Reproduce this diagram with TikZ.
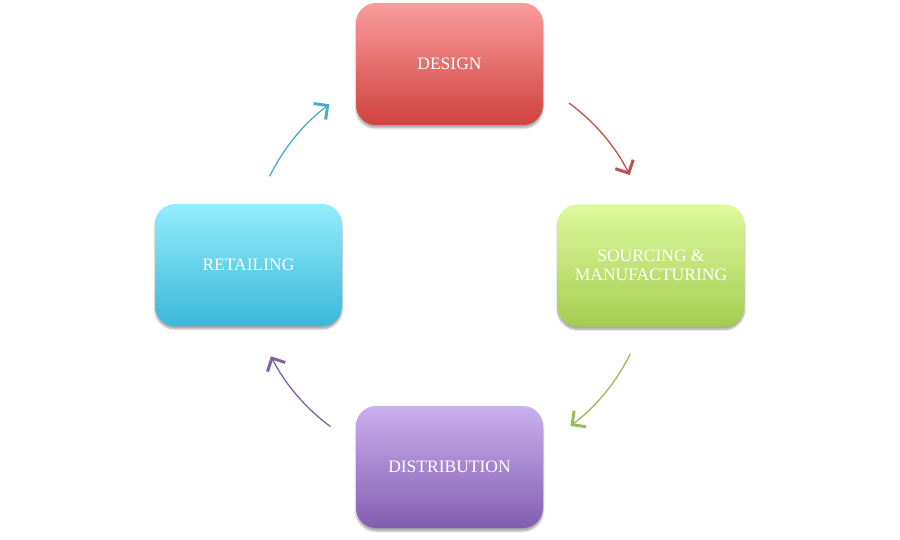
\documentclass[tikz,border=0pt]{standalone}
\usepackage{fontspec}
\setmainfont{Liberation Serif}
\usetikzlibrary{arrows.meta,shadows.blur,calc}
\definecolor{redT}{RGB}{250,156,156}
\definecolor{redB}{RGB}{207,66,62}
\definecolor{grnT}{RGB}{222,250,158}
\definecolor{grnB}{RGB}{164,204,80}
\definecolor{bluT}{RGB}{148,237,252}
\definecolor{bluB}{RGB}{58,184,217}
\definecolor{purT}{RGB}{202,176,238}
\definecolor{purB}{RGB}{130,94,176}
\definecolor{redA}{RGB}{192,80,77}
\definecolor{grnA}{RGB}{155,187,89}
\definecolor{bluA}{RGB}{75,172,198}
\definecolor{purA}{RGB}{128,100,162}
\tikzset{
  box/.style={rounded corners=20pt, minimum width=187pt, minimum height=122pt,
    text=white, font=\fontsize{17.5}{19.5}\selectfont, align=center,
    blur shadow={shadow blur steps=6, shadow xshift=0pt, shadow yshift=-3pt, shadow opacity=35, shadow blur extra rounding=2pt}},
  cyc/.style={line width=1.3pt, -{Straight Barb[length=10pt,width=20pt,line width=3pt]}}
}
\begin{document}
\begin{tikzpicture}[x=1pt,y=1pt]
\useasboundingbox (0,0) rectangle (900,539);
\node[box, top color=redT, bottom color=redB] (design) at (449.5,475) {DESIGN};
\node[box, top color=grnT, bottom color=grnB] (sourcing) at (651,273.5) {SOURCING \&\\MANUFACTURING};
\node[box, top color=bluT, bottom color=bluB] (retail) at (248.5,274) {RETAILING};
\node[box, top color=purT, bottom color=purB] (distrib) at (449.5,72) {DISTRIBUTION};
\coordinate (c) at (450,274);
\coordinate (rs) at ($(c)+(53.7:201)$);
\coordinate (gs) at ($(c)+(-26.3:201)$);
\coordinate (ps) at ($(c)+(-126.5:201)$);
\coordinate (bs) at ($(c)+(153.8:201)$);
\draw[cyc, redA] (rs) arc[start angle=53.7, end angle=26.6, radius=201];
\draw[cyc, grnA] (gs) arc[start angle=-26.3, end angle=-53.2, radius=201];
\draw[cyc, purA] (ps) arc[start angle=-126.5, end angle=-153, radius=201];
\draw[cyc, bluA] (bs) arc[start angle=153.8, end angle=126.9, radius=201];
\end{tikzpicture}
\end{document}
